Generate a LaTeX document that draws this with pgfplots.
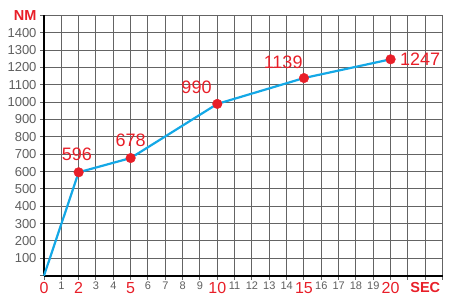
\documentclass[border=0pt]{standalone}
\usepackage{pgfplots}
\pgfplotsset{compat=1.18}
\usepackage{fontspec}
\setmainfont{Liberation Sans}
\definecolor{tickgray}{RGB}{95,95,95}
\definecolor{gridgray}{RGB}{100,100,100}
\definecolor{lred}{RGB}{232,30,40}
\definecolor{lblue}{RGB}{20,168,230}
\newcommand{\R}[1]{{\fontsize{16}{16}\selectfont\color{lred}#1}}
\begin{document}
\begin{tikzpicture}
\begin{axis}[
  name=ax,
  scale only axis,
  width=398.6pt, height=260.3pt,
  xmin=0, xmax=23, ymin=0, ymax=1500,
  axis x line*=bottom, axis y line*=left,
  axis line style={line width=2.2pt, black},
  xtick={0,1,...,23},
  xticklabels={\R{0},1,\R{2},3,4,\R{5},6,7,8,9,\R{10},11,12,13,14,\R{15},16,17,18,19,\R{20},,{\fontsize{14.5}{14.5}\selectfont\bfseries\color{lred}SEC},},
  ytick={0,100,...,1500},
  yticklabels={,100,200,300,400,500,600,700,800,900,1000,1100,1200,1300,1400,{\fontsize{14.5}{14.5}\selectfont\bfseries\color{lred}NM}},
  xticklabel style={font=\fontsize{11}{11}\selectfont, text=tickgray, yshift=1pt},
  yticklabel style={font=\fontsize{13}{13}\selectfont, text=tickgray},
  tick align=outside,
  major tick length=4pt,
  tick style={line width=1pt, gridgray},
  grid=major,
  major grid style={line width=1pt, gridgray},
  clip=false,
]
\addplot[lblue, line width=2.2pt] coordinates {(0,0) (2,596) (5,678) (10,990) (15,1139) (20,1247)};
\addplot[only marks, mark=*, mark size=4.8pt, lred, mark options={draw=lred, fill=lred}] coordinates {(2,596) (5,678) (10,990) (15,1139) (20,1247)};
\node[lred, font=\fontsize{18}{18}\selectfont, anchor=south] at (axis cs:1.9,640) {596};
\node[lred, font=\fontsize{18}{18}\selectfont, anchor=south] at (axis cs:5.0,722) {678};
\node[lred, font=\fontsize{18}{18}\selectfont, anchor=south] at (axis cs:8.8,1030) {990};
\node[lred, font=\fontsize{18}{18}\selectfont, anchor=south] at (axis cs:13.8,1175) {1139};
\node[lred, font=\fontsize{18}{18}\selectfont, anchor=west] at (axis cs:20.35,1247) {1247};
\end{axis}
\path[use as bounding box] (ax.south west) ++(-44pt,-26.3pt) rectangle ++(449pt,302pt);
\end{tikzpicture}
\end{document}
